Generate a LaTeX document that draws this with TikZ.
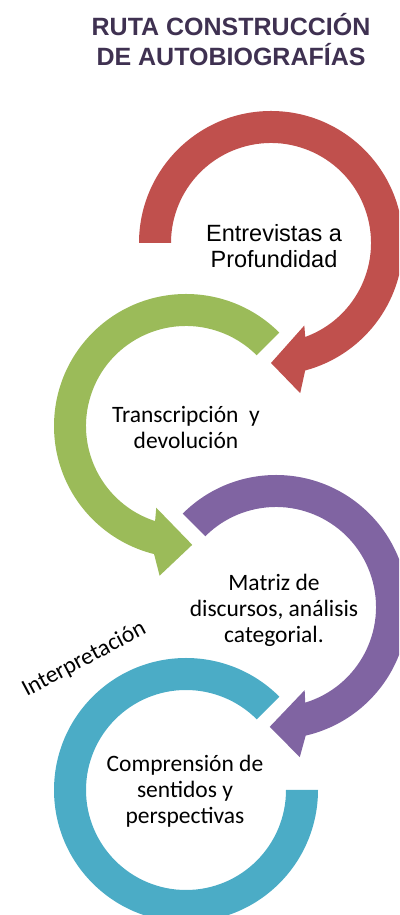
\documentclass[tikz,border=0pt]{standalone}
\usepackage{fontspec}
\usepackage{tikz}
\usepackage{xcolor}
\setmainfont{Carlito}
\newfontfamily\arialfont{Liberation Sans}
\usetikzlibrary{positioning}
\definecolor{rojo}{HTML}{C0504D}
\definecolor{verde}{HTML}{9BBB59}
\definecolor{morado}{HTML}{8064A2}
\definecolor{turquesa}{HTML}{4BACC6}
\definecolor{titulo}{HTML}{3F3151}
\tikzset{
  texto/.style={align=center,inner sep=0pt,font=\fontsize{23.5}{26}\selectfont},
  tituloT/.style={align=center,inner sep=0pt,text=titulo,font=\arialfont\bfseries\fontsize{25}{30}\selectfont}
}

\begin{document}
\begin{tikzpicture}[x=1pt,y=1pt]
\clip (0,0) rectangle (399,915);
\coordinate (cr) at (271,672);
\coordinate (cv) at (186,489);
\coordinate (cm) at (276,308);
\coordinate (ct) at (186,125);

\fill[rojo,shift={(cr)}] (180:132) arc[start angle=180,end angle=-75,radius=132]
  -- (-79:153) -- (-90:120) -- (-68:89) -- (-70:100)
  arc[start angle=-70,end angle=180,radius=100] -- cycle;
\fill[verde,shift={(cv)}] (45:132) arc[start angle=45,end angle=256,radius=132]
  -- (260:152) -- (273:119) -- (250:87) -- (252:100)
  arc[start angle=252,end angle=45,radius=100] -- cycle;
\fill[morado,shift={(cm)}] (135:132) arc[start angle=135,end angle=-77,radius=132]
  -- (-81:152) -- (-93:120) -- (-71:88) -- (-73:100)
  arc[start angle=-73,end angle=135,radius=100] -- cycle;
\fill[turquesa,shift={(ct)}] (45:132) arc[start angle=45,end angle=360,radius=132]
  -- (0:100) arc[start angle=360,end angle=45,radius=100] -- cycle;

\node[tituloT] (ti) at (231,875) {RUTA CONSTRUCCI\'ON\\DE AUTOBIOGRAF\'IAS};
\node[texto,font=\arialfont\fontsize{23.5}{26}\selectfont] (en) at (274,669) {Entrevistas a\\Profundidad};
\node[texto] (tr) at (186,487) {Transcripci\'on\ \ y\\devoluci\'on};
\node[texto] (ma) at (274,305) {Matriz de\\discursos, an\'alisis\\categorial.};
\node[texto] (co) at (185,124) {Comprensi\'on de\\sentidos y\\perspectivas};
\node[texto,anchor=base,rotate=28] (in) at (87,250) {Interpretaci\'on};
\end{tikzpicture}
\end{document}
